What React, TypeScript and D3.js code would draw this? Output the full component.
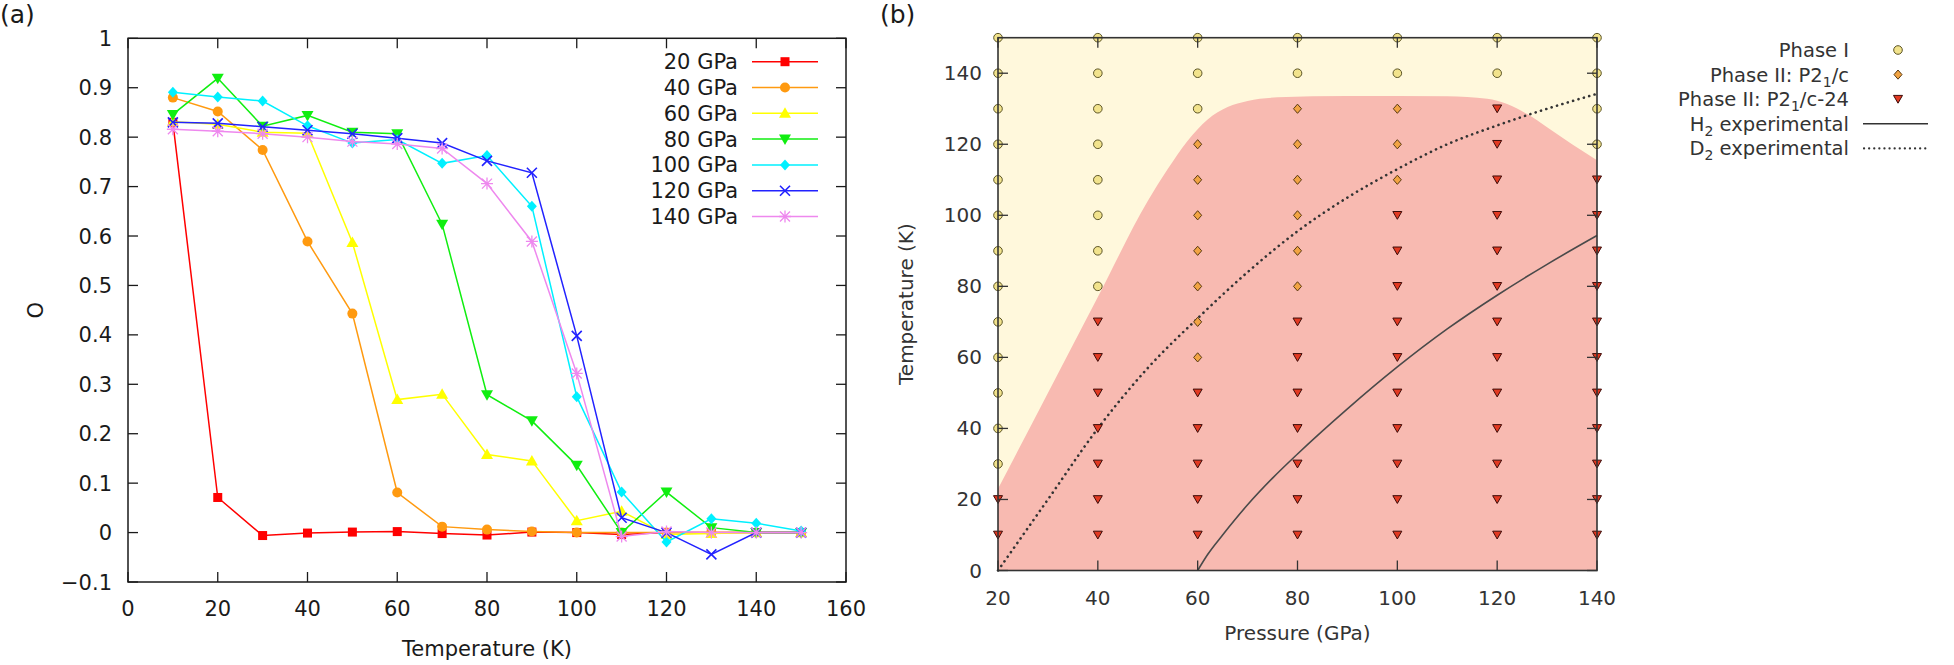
import React from 'react';
import * as d3 from 'd3';

// ---- panel (a): order parameter vs temperature ----
const temps = [10, 20, 30, 40, 50, 60, 70, 80, 90, 100, 110, 120, 130, 140, 150];
const o20 = [0.83, 0.071, -0.006, -0.001, 0.001, 0.002, -0.002, -0.005, 0.001, 0.0, -0.004, 0.0, 0.0, 0.0, 0.0];
const o40 = [0.88, 0.852, 0.774, 0.589, 0.443, 0.081, 0.012, 0.006, 0.002, 0.0, 0.0, 0.0, 0.0, 0.0, 0.0];
const o60 = [0.831, 0.826, 0.81, 0.808, 0.587, 0.269, 0.28, 0.158, 0.145, 0.024, 0.043, -0.004, -0.002, 0.0, 0.0];
const o80 = [0.846, 0.919, 0.822, 0.844, 0.81, 0.807, 0.624, 0.279, 0.226, 0.136, 0.0, 0.082, 0.01, 0.0, 0.0];
const o100 = [0.891, 0.881, 0.873, 0.823, 0.788, 0.795, 0.747, 0.763, 0.66, 0.275, 0.082, -0.019, 0.028, 0.019, 0.003];
const o120 = [0.83, 0.828, 0.821, 0.814, 0.807, 0.798, 0.788, 0.752, 0.728, 0.398, 0.03, 0.0, -0.044, 0.0, 0.0];
const o140 = [0.816, 0.812, 0.807, 0.8, 0.791, 0.786, 0.777, 0.706, 0.589, 0.322, -0.008, 0.002, 0.0, 0.0, 0.0];
const seriesNames = ['20 GPa', '40 GPa', '60 GPa', '80 GPa', '100 GPa', '120 GPa', '140 GPa'];
const seriesColors = ['#ff0000', '#ff9a10', '#ffff00', '#10ee10', '#00f0ff', '#2222ff', '#ee88ee'];
const seriesShapes = ['square', 'circle', 'tri-up', 'tri-down', 'diamond', 'cross', 'star'];
const seriesValues = [o20, o40, o60, o80, o100, o120, o140];
const aXTicks = [0, 20, 40, 60, 80, 100, 120, 140, 160];
const aYTicks = [-0.1, 0, 0.1, 0.2, 0.3, 0.4, 0.5, 0.6, 0.7, 0.8, 0.9, 1];

// ---- panel (b): phase diagram ----
const pressures = [20, 40, 60, 80, 100, 120, 140];
const gridTemps = [10, 20, 30, 40, 50, 60, 70, 80, 90, 100, 110, 120, 130, 140, 150];
const phaseIMinT = [30, 80, 130, 140, 140, 140, 120]; // lowest T where phase I found
const p21cMinT = [null, null, 60, 80, 110, null, null]; // lowest T of P2_1/c, else P2_1/c-24
const boundaryP = [20, 30, 40, 50, 54, 58, 62, 66, 70, 76, 90, 110, 118, 122, 126, 130, 135, 140];
const boundaryT = [23, 50, 77, 104, 113, 121, 127, 130.5, 132.2, 133.2, 133.6, 133.5, 132.8, 131.3, 128.5, 124.8, 120, 115.5];
const h2P = [60, 62, 65, 70, 75, 80, 90, 100, 110, 120, 130, 140];
const h2T = [0, 4.5, 10, 18.5, 26, 32.8, 45.5, 57.3, 68, 77.5, 86.2, 94.3];
const d2P = [20, 30, 40, 50, 60, 70, 80, 90, 100, 110, 120, 130, 140];
const d2T = [0, 20, 40, 57, 71, 84, 95.5, 105, 113, 120, 125.3, 130, 134.2];
const bXTicks = [20, 40, 60, 80, 100, 120, 140];
const bYTicks = [0, 20, 40, 60, 80, 100, 120, 140];

const FONT = 'DejaVu Sans, sans-serif';

function Marker({ shape, x, y, color }: { shape: string; x: number; y: number; color: string }) {
  switch (shape) {
    case 'square':
      return <rect x={x - 4.5} y={y - 4.5} width={9} height={9} fill={color} />;
    case 'circle':
      return <circle cx={x} cy={y} r={5} fill={color} />;
    case 'tri-up':
      return <path d={`M${x},${y - 6}L${x + 6},${y + 4.5}L${x - 6},${y + 4.5}Z`} fill={color} />;
    case 'tri-down':
      return <path d={`M${x},${y + 6}L${x + 6},${y - 4.5}L${x - 6},${y - 4.5}Z`} fill={color} />;
    case 'diamond':
      return <path d={`M${x},${y - 5.5}L${x + 5},${y}L${x},${y + 5.5}L${x - 5},${y}Z`} fill={color} />;
    case 'cross':
      return (
        <path d={`M${x - 5},${y - 5}L${x + 5},${y + 5}M${x - 5},${y + 5}L${x + 5},${y - 5}`} stroke={color} strokeWidth={1.6} />
      );
    default:
      return (
        <path
          d={`M${x - 5},${y - 5}L${x + 5},${y + 5}M${x - 5},${y + 5}L${x + 5},${y - 5}M${x},${y - 6}L${x},${y + 6}M${x - 6},${y}L${x + 6},${y}`}
          stroke={color}
          strokeWidth={1.3}
        />
      );
  }
}

function PanelA() {
  const x = d3.scaleLinear().domain([0, 160]).range([128, 846]);
  const y = d3.scaleLinear().domain([-0.1, 1]).range([582, 38.3]);
  const line = d3.line<number>().x((_, i) => x(temps[i])).y((d) => y(d));
  const ink = '#1a1a1a';
  return (
    <g fontFamily={FONT} fontSize={21} fill={ink}>
      <text x={0} y={23} fontSize={25}>(a)</text>
      {seriesValues.map((vals, k) => (
        <g key={k}>
          <path d={line(vals) || ''} fill="none" stroke={seriesColors[k]} strokeWidth={1.5} />
          {vals.map((v, i) => (
            <Marker key={i} shape={seriesShapes[k]} x={x(temps[i])} y={y(v)} color={seriesColors[k]} />
          ))}
        </g>
      ))}
      <rect x={x(0)} y={y(1)} width={x(160) - x(0)} height={y(-0.1) - y(1)} fill="none" stroke={ink} strokeWidth={1.5} />
      {aXTicks.map((t) => (
        <g key={t}>
          <line x1={x(t)} x2={x(t)} y1={y(-0.1)} y2={y(-0.1) - 10} stroke={ink} strokeWidth={1.3} />
          <line x1={x(t)} x2={x(t)} y1={y(1)} y2={y(1) + 10} stroke={ink} strokeWidth={1.3} />
          <text x={x(t)} y={616} textAnchor="middle">{t}</text>
        </g>
      ))}
      {aYTicks.map((t) => (
        <g key={t}>
          <line x1={x(0)} x2={x(0) + 10} y1={y(t)} y2={y(t)} stroke={ink} strokeWidth={1.3} />
          <line x1={x(160)} x2={x(160) - 10} y1={y(t)} y2={y(t)} stroke={ink} strokeWidth={1.3} />
          <text x={112} y={y(t) + 7.5} textAnchor="end">{d3.format('.1~f')(t)}</text>
        </g>
      ))}
      <text x={487} y={656} textAnchor="middle">Temperature (K)</text>
      <text transform={`translate(43,${(y(1) + y(-0.1)) / 2}) rotate(-90)`} textAnchor="middle">O</text>
      {seriesNames.map((n, k) => {
        const cy = 61.7 + k * 25.8;
        return (
          <g key={n}>
            <text x={738} y={cy + 7.5} textAnchor="end">{n}</text>
            <line x1={752} x2={818} y1={cy} y2={cy} stroke={seriesColors[k]} strokeWidth={1.5} />
            <Marker shape={seriesShapes[k]} x={785} y={cy} color={seriesColors[k]} />
          </g>
        );
      })}
    </g>
  );
}

function PhaseMarker({ kind, x, y }: { kind: string; x: number; y: number }) {
  if (kind === 'I') return <circle cx={x} cy={y} r={4.3} fill="#f2e38c" stroke="#5b5426" strokeWidth={1} />;
  if (kind === 'II')
    return <path d={`M${x},${y - 4.6}L${x + 4},${y}L${x},${y + 4.6}L${x - 4},${y}Z`} fill="#f2a443" stroke="#5a3a12" strokeWidth={1} />;
  return <path d={`M${x},${y + 4}L${x + 4.5},${y - 3.8}L${x - 4.5},${y - 3.8}Z`} fill="#e23a22" stroke="#3c0b08" strokeWidth={1} />;
}

function PanelB() {
  const x = d3.scaleLinear().domain([20, 140]).range([998, 1597]);
  const y = d3.scaleLinear().domain([0, 150]).range([570.5, 37.7]);
  const ink = '#333333';
  const area = d3
    .area<number>()
    .x((_, i) => x(boundaryP[i]))
    .y0(y(0))
    .y1((d) => y(d))
    .curve(d3.curveMonotoneX);
  const lineH = d3.line<number>().x((_, i) => x(h2P[i])).y((d) => y(d)).curve(d3.curveMonotoneX);
  const lineD = d3.line<number>().x((_, i) => x(d2P[i])).y((d) => y(d)).curve(d3.curveMonotoneX);

  const points: { p: number; t: number; kind: string }[] = [];
  pressures.forEach((p, j) => {
    gridTemps.forEach((t) => {
      let kind = 'II24';
      if (t >= phaseIMinT[j]) kind = 'I';
      else if (p21cMinT[j] !== null && t >= (p21cMinT[j] as number)) kind = 'II';
      points.push({ p, t, kind });
    });
  });

  const legend = [
    { label: <>Phase I</>, kind: 'I' },
    { label: <>Phase II: P2<tspan fontSize={14} dy={5}>1</tspan><tspan dy={-5}>/c</tspan></>, kind: 'II' },
    { label: <>Phase II: P2<tspan fontSize={14} dy={5}>1</tspan><tspan dy={-5}>/c-24</tspan></>, kind: 'II24' },
    { label: <>H<tspan fontSize={14} dy={5}>2</tspan><tspan dy={-5}> experimental</tspan></>, kind: 'H' },
    { label: <>D<tspan fontSize={14} dy={5}>2</tspan><tspan dy={-5}> experimental</tspan></>, kind: 'D' },
  ];

  return (
    <g fontFamily={FONT} fontSize={20} fill={ink}>
      <text x={880} y={23} fontSize={25} fill="#1a1a1a">(b)</text>
      <rect x={x(20)} y={y(150)} width={x(140) - x(20)} height={y(0) - y(150)} fill="#fff8dc" />
      <path d={area(boundaryT) || ''} fill="#f8bab1" />
      <path d={lineH(h2T) || ''} fill="none" stroke="#4a4a4a" strokeWidth={1.6} />
      <path d={lineD(d2T) || ''} fill="none" stroke="#333" strokeWidth={2.6} strokeDasharray="0.1 5.5" strokeLinecap="round" />
      {points.map((d, i) => (
        <PhaseMarker key={i} kind={d.kind} x={x(d.p)} y={y(d.t)} />
      ))}
      <rect x={x(20)} y={y(150)} width={x(140) - x(20)} height={y(0) - y(150)} fill="none" stroke={ink} strokeWidth={1.6} />
      {bXTicks.map((t) => (
        <g key={t}>
          <line x1={x(t)} x2={x(t)} y1={y(0)} y2={y(0) - 10} stroke={ink} strokeWidth={1.3} />
          <line x1={x(t)} x2={x(t)} y1={y(150)} y2={y(150) + 10} stroke={ink} strokeWidth={1.3} />
          <text x={x(t)} y={605} textAnchor="middle">{t}</text>
        </g>
      ))}
      {bYTicks.map((t) => (
        <g key={t}>
          <line x1={x(20)} x2={x(20) + 10} y1={y(t)} y2={y(t)} stroke={ink} strokeWidth={1.3} />
          <line x1={x(140)} x2={x(140) - 10} y1={y(t)} y2={y(t)} stroke={ink} strokeWidth={1.3} />
          <text x={982} y={y(t) + 7} textAnchor="end">{t}</text>
        </g>
      ))}
      <text x={(x(20) + x(140)) / 2} y={640} textAnchor="middle">Pressure (GPa)</text>
      <text transform={`translate(913,${(y(0) + y(150)) / 2}) rotate(-90)`} textAnchor="middle">Temperature (K)</text>
      {legend.map((l, i) => {
        const cy = 50 + i * 24.6;
        return (
          <g key={i}>
            <text x={1849} y={cy + 7} textAnchor="end" fontSize={19.5}>{l.label}</text>
            {l.kind === 'H' && <line x1={1863} x2={1928} y1={cy} y2={cy} stroke="#333" strokeWidth={1.5} />}
            {l.kind === 'D' && (
              <line x1={1864} x2={1926} y1={cy} y2={cy} stroke="#333" strokeWidth={2.2} strokeDasharray="0.1 5" strokeLinecap="round" />
            )}
            {(l.kind === 'I' || l.kind === 'II' || l.kind === 'II24') && <PhaseMarker kind={l.kind} x={1898} y={cy} />}
          </g>
        );
      })}
    </g>
  );
}

export default function App() {
  return (
    <svg width={1954} height={665} style={{ position: 'absolute', left: 0, top: 0, background: '#fff' }}>
      <rect width={1954} height={665} fill="#fff" />
      <PanelA />
      <PanelB />
    </svg>
  );
}
